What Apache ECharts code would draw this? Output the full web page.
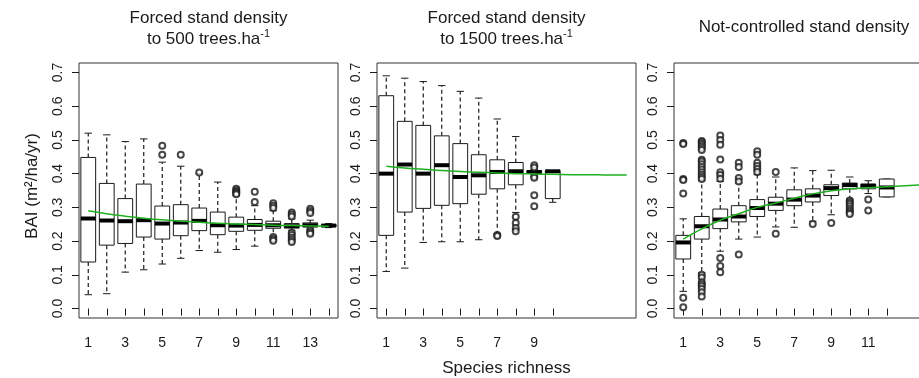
<!DOCTYPE html>
<html><head><meta charset="utf-8">
<script src="https://cdn.jsdelivr.net/npm/echarts@6/dist/echarts.min.js"></script>
<style>html,body{margin:0;padding:0;background:#fff}#c{width:919px;height:378px}</style>
</head><body><div id="c"></div>
<script>
// ---------- data ----------
const panelTitleLine1 = ['Forced stand density', 'Forced stand density', ''];
const panelTitleLine2 = ['to 500 trees.ha', 'to 1500 trees.ha', 'Not-controlled stand density'];
const xAxisTitle = 'Species richness';
const yAxisTitle = 'BAI (m²/ha/yr)';
const yTicks = [0, 0.1, 0.2, 0.3, 0.4, 0.5, 0.6, 0.7];

// box stats per species richness: [lower whisker, Q1, median, Q3, upper whisker]
const p1Ticks = [1,2,3,4,5,6,7,8,9,10,11,12,13,14];
const p1TickLabels = [1,3,5,7,9,11,13];
const p1Boxes = [
  [0.041,0.138,0.267,0.448,0.520],
  [0.044,0.188,0.261,0.371,0.515],
  [0.108,0.193,0.259,0.326,0.495],
  [0.115,0.212,0.262,0.369,0.503],
  [0.132,0.206,0.252,0.304,0.434],
  [0.149,0.216,0.255,0.308,0.422],
  [0.172,0.231,0.260,0.298,0.400],
  [0.167,0.219,0.247,0.286,0.375],
  [0.175,0.229,0.246,0.271,0.335],
  [0.185,0.232,0.248,0.264,0.305],
  [0.214,0.238,0.247,0.259,0.290],
  [0.232,0.239,0.244,0.252,0.266],
  [0.236,0.242,0.247,0.254,0.262],
  [0.240,0.243,0.246,0.249,0.252]
];
const p1Outliers = [
  [5,0.483],[5,0.456],[6,0.456],[7,0.403],
  [9,0.355],[9,0.350],[9,0.346],[9,0.342],[9,0.339],
  [10,0.346],[10,0.316],
  [11,0.312],[11,0.305],[11,0.298],[11,0.212],[11,0.206],[11,0.201],
  [12,0.285],[12,0.279],[12,0.273],[12,0.225],[12,0.218],[12,0.210],[12,0.203],[12,0.197],
  [13,0.296],[13,0.289],[13,0.283],[13,0.232],[13,0.226],[13,0.222]
];
const p1Trend = [0.290,0.281,0.274,0.268,0.263,0.259,0.256,0.253,0.251,0.249,0.247,0.246,0.245,0.244];

const p2Ticks = [1,2,3,4,5,6,7,8,9,10];
const p2TickLabels = [1,3,5,7,9];
const p2Boxes = [
  [0.110,0.217,0.400,0.631,0.690],
  [0.120,0.286,0.427,0.555,0.683],
  [0.196,0.297,0.400,0.543,0.673],
  [0.198,0.306,0.425,0.512,0.661],
  [0.198,0.311,0.390,0.489,0.644],
  [0.204,0.339,0.395,0.456,0.624],
  [0.222,0.355,0.405,0.441,0.562],
  [0.285,0.367,0.407,0.433,0.510],
  [0.400,0.402,0.405,0.409,0.412],
  [0.315,0.326,0.407,0.409,0.409]
];
const p2Outliers = [
  [7,0.218],[7,0.215],
  [8,0.272],[8,0.254],[8,0.239],[8,0.229],
  [9,0.425],[9,0.418],[9,0.392],[9,0.388],[9,0.336],[9,0.303]
];
const p2Trend = [0.422,0.417,0.413,0.409,0.406,0.404,0.402,0.400,0.399,0.398,0.397,0.397,0.396,0.396];

const p3Ticks = [1,2,3,4,5,6,7,8,9,10,11,12];
const p3TickLabels = [1,3,5,7,9,11];
const p3Boxes = [
  [0.051,0.147,0.196,0.217,0.266],
  [0.106,0.206,0.244,0.273,0.379],
  [0.170,0.237,0.264,0.295,0.377],
  [0.206,0.257,0.273,0.305,0.372],
  [0.212,0.273,0.298,0.323,0.397],
  [0.242,0.291,0.311,0.330,0.390],
  [0.241,0.305,0.323,0.352,0.417],
  [0.259,0.316,0.335,0.355,0.409],
  [0.278,0.335,0.357,0.367,0.410],
  [0.325,0.355,0.366,0.372,0.390],
  [0.341,0.355,0.364,0.369,0.379],
  [0.331,0.331,0.359,0.384,0.384]
];
const p3Outliers = [
  [1,0.491],[1,0.488],[1,0.384],[1,0.381],[1,0.341],[1,0.032],[1,0.004],
  [2,0.497],[2,0.493],[2,0.488],[2,0.482],[2,0.476],[2,0.470],[2,0.441],[2,0.436],[2,0.428],
  [2,0.420],[2,0.412],[2,0.404],[2,0.397],[2,0.390],[2,0.384],
  [2,0.100],[2,0.092],[2,0.078],[2,0.072],[2,0.066],[2,0.058],[2,0.048],[2,0.036],
  [3,0.513],[3,0.500],[3,0.486],[3,0.442],[3,0.404],[3,0.396],[3,0.385],[3,0.150],[3,0.126],[3,0.108],
  [4,0.432],[4,0.420],[4,0.387],[4,0.377],[4,0.160],
  [5,0.466],[5,0.456],[5,0.432],[5,0.423],[5,0.414],[5,0.405],
  [6,0.405],[6,0.222],
  [8,0.251],[9,0.254],
  [10,0.320],[10,0.315],[10,0.310],[10,0.303],[10,0.296],[10,0.290],[10,0.285],[10,0.280],
  [11,0.323],[11,0.291]
];
const p3Trend = [0.206,0.236,0.262,0.281,0.300,0.313,0.327,0.340,0.349,0.355,0.358,0.361,0.364,0.367];

// ---------- chart ----------
const FONT = 'Liberation Sans, Arial, sans-serif';
const INK = '#1a1a1a';
const gridLefts = [79, 377, 674];
const panels = [
  {boxes:p1Boxes, outliers:p1Outliers, trend:p1Trend, ticks:p1Ticks, labels:p1TickLabels},
  {boxes:p2Boxes, outliers:p2Outliers, trend:p2Trend, ticks:p2Ticks, labels:p2TickLabels},
  {boxes:p3Boxes, outliers:p3Outliers, trend:p3Trend, ticks:p3Ticks, labels:p3TickLabels}
];

function renderBox(params, api) {
  const x = api.value(0), lo = api.value(1), q1 = api.value(2), med = api.value(3), q3 = api.value(4), hi = api.value(5);
  const hw = 0.4, sw = 0.2;
  const tl = api.coord([x - hw, q3]), br = api.coord([x + hw, q1]);
  const cx = api.coord([x, 0])[0];
  const yLo = api.coord([x, lo])[1], yHi = api.coord([x, hi])[1], yMed = api.coord([x, med])[1];
  const sL = api.coord([x - sw, 0])[0], sR = api.coord([x + sw, 0])[0];
  const ln = {stroke: INK, lineWidth: 1};
  const dash = {stroke: INK, lineWidth: 1.2, lineDash: [4, 3]};
  return {type: 'group', children: [
    {type:'line', shape:{x1:cx, y1:tl[1], x2:cx, y2:yHi}, style:dash},
    {type:'line', shape:{x1:cx, y1:br[1], x2:cx, y2:yLo}, style:dash},
    {type:'line', shape:{x1:sL, y1:yHi, x2:sR, y2:yHi}, style:ln},
    {type:'line', shape:{x1:sL, y1:yLo, x2:sR, y2:yLo}, style:ln},
    {type:'rect', shape:{x:tl[0], y:tl[1], width:br[0]-tl[0], height:br[1]-tl[1]}, style:{fill:'#fff', stroke:INK, lineWidth:1}},
    {type:'line', shape:{x1:tl[0], y1:yMed, x2:br[0], y2:yMed}, style:{stroke:'#000', lineWidth:4}}
  ]};
}

const grid = [], xAxis = [], yAxis = [], series = [];
panels.forEach((p, i) => {
  grid.push({left: gridLefts[i], top: 63, width: 259, height: 255, show: true, borderColor: '#333', borderWidth: 1,
    backgroundColor: 'transparent', containLabel: false, outerBoundsMode: 'none'});
  xAxis.push({type:'value', gridIndex:i, min:0.5, max:14.5,
    axisLine:{show:false}, splitLine:{show:false},
    axisTick:{show:true, length:7, lineStyle:{color:INK}, customValues:p.ticks},
    axisLabel:{customValues:p.labels, margin:18, fontSize:14, color:INK, fontFamily:FONT}});
  yAxis.push({type:'value', gridIndex:i, min:-0.028, max:0.728,
    axisLine:{show:false}, splitLine:{show:false},
    axisTick:{show:true, length:7, lineStyle:{color:INK}, customValues:yTicks},
    axisLabel:{customValues:yTicks, rotate:90, margin:14, fontSize:14, color:INK, fontFamily:FONT,
      formatter: v => Number(v).toFixed(1)}});
  series.push({type:'custom', xAxisIndex:i, yAxisIndex:i, renderItem: renderBox,
    data: p.boxes.map((b, k) => [k + 1].concat(b)), z: 2, silent: true});
  series.push({type:'scatter', xAxisIndex:i, yAxisIndex:i, symbol:'emptyCircle', symbolSize:6,
    itemStyle:{color:INK, borderWidth:1}, data:p.outliers, z: 3, silent: true});
  series.push({type:'line', xAxisIndex:i, yAxisIndex:i, smooth:true, showSymbol:false,
    lineStyle:{color:'#21b021', width:1.5}, data:p.trend.map((v, k) => [k + 1, v]), z: 5, silent: true});
});

const centers = [208.5, 506.5, 804];
const graphic = [];
const tStyle = {fontSize: 17, fontFamily: FONT, fill: INK, align: 'center', verticalAlign: 'middle'};
for (let i = 0; i < 2; i++) {
  graphic.push({type:'text', x:centers[i], y:18, style:Object.assign({}, tStyle, {text: panelTitleLine1[i]})});
  graphic.push({type:'text', x:centers[i], y:39, style:Object.assign({}, tStyle, {text: panelTitleLine2[i] + '{sup|-1}',
    rich:{sup:{fontSize:11, fontFamily:FONT, fill:INK, verticalAlign:'top', lineHeight:22}}})});
}
graphic.push({type:'text', x:centers[2], y:27, style:Object.assign({}, tStyle, {text: panelTitleLine2[2]})});
graphic.push({type:'text', x:centers[1], y:368, style:Object.assign({}, tStyle, {text: xAxisTitle})});
graphic.push({type:'text', x:32, y:186, rotation:Math.PI/2, style:Object.assign({}, tStyle, {text: yAxisTitle})});

const chart = echarts.init(document.getElementById('c'), null, {renderer:'canvas'});
chart.setOption({animation:false, backgroundColor:'#fff', grid, xAxis, yAxis, series, graphic});
</script></body></html>
